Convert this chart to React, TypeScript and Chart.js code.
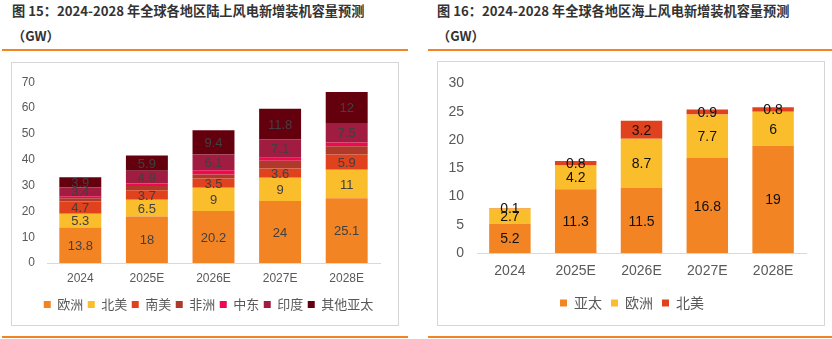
import React, { useEffect, useRef } from "react";
import { Chart, registerables } from "chart.js";
Chart.register(...registerables);

// ---------- data ----------
const years = ["2024", "2025E", "2026E", "2027E", "2028E"];

const onshoreEurope = [13.8, 18, 20.2, 24, 25.1];
const onshoreNorthAmerica = [5.3, 6.5, 9, 9, 11];
const onshoreSouthAmerica = [4.7, 3.7, 3.5, 3.6, 5.9];
const onshoreAfrica = [1.3, 1.6, 1.6, 3.0, 3.2];
const onshoreMiddleEast = [0.8, 1.0, 1.6, 1.2, 1.5];
const onshoreIndia = [3.4, 4.9, 6.1, 7.1, 7.5];
const onshoreOtherAPAC = [3.9, 5.9, 9.4, 11.8, 12];

const offshoreAPAC = [5.2, 11.3, 11.5, 16.8, 19];
const offshoreEurope = [2.7, 4.2, 8.7, 7.7, 6];
const offshoreNorthAmerica = [0.1, 0.8, 3.2, 0.9, 0.8];

const onshoreTicks = { min: 0, max: 70, step: 10 };
const offshoreTicks = { min: 0, max: 30, step: 5 };

const title15 = "图 15：2024-2028 年全球各地区陆上风电新增装机容量预测";
const title16 = "图 16：2024-2028 年全球各地区海上风电新增装机容量预测";
const unitLine = "（GW）";

// ---------- styles ----------
const C_ORANGE = "#F28424";
const C_YELLOW = "#FABD2C";
const C_RED = "#E0421E";
const C_BRICK = "#B03A2A";
const C_PINK = "#EC0A50";
const C_CRIMSON = "#A01C40";
const C_MAROON = "#64000E";

const NUM_FONT = "'Liberation Sans', Arial, sans-serif";
const CJK_FONT = "'Noto Sans CJK SC', 'Liberation Sans', sans-serif";

const barLabels = {
  id: "barLabels",
  afterDatasetsDraw(chart: any, _args: any, opts: any) {
    const { ctx } = chart;
    chart.data.datasets.forEach((ds: any, i: number) => {
      if (ds.hideLabels) return;
      const meta = chart.getDatasetMeta(i);
      if (meta.hidden) return;
      meta.data.forEach((el: any, j: number) => {
        const v = ds.data[j];
        const p = el.getProps(["x", "y", "base"], true);
        ctx.save();
        ctx.fillStyle = opts.color;
        ctx.font = `${opts.size}px ${NUM_FONT}`;
        ctx.textAlign = "center";
        ctx.textBaseline = "middle";
        ctx.fillText(String(v), p.x, (p.y + p.base) / 2 + 1);
        ctx.restore();
      });
    });
  },
};

// shifts the legend box horizontally after layout
const legendShift = {
  id: "legendShift",
  afterLayout(chart: any, _args: any, opts: any) {
    const lg = chart.legend;
    if (!lg || !opts || !opts.dx) return;
    lg.left += opts.dx;
    lg.right += opts.dx;
  },
};

function makeConfig(
  datasets: any[],
  ticks: { min: number; max: number; step: number },
  cfg: {
    yWidth: number;
    yPad: number;
    tickSize: number;
    xPad: number;
    xSize: number;
    xShrink: number;
    legendSize: number;
    legendPad: number;
    legendDx: number;
    labelColor: string;
    labelSize: number;
    top: number;
    right: number;
    bottom: number;
  }
): any {
  return {
    type: "bar",
    data: { labels: years, datasets },
    plugins: [barLabels, legendShift],
    options: {
      animation: false,
      responsive: false,
      devicePixelRatio: 1,
      layout: { padding: { top: cfg.top, right: cfg.right, bottom: cfg.bottom, left: 0 } },
      datasets: { bar: { categoryPercentage: 1, barPercentage: 0.63 } },
      scales: {
        x: {
          stacked: true,
          grid: { display: false, drawTicks: false },
          border: { display: true, color: "#d9d9d9", width: 1 },
          ticks: { color: "#595959", font: { family: NUM_FONT, size: cfg.xSize }, padding: cfg.xPad },
          afterFit: (s: any) => {
            s.height = s.height - cfg.xShrink;
          },
        },
        y: {
          stacked: true,
          min: ticks.min,
          max: ticks.max,
          grid: { display: false, drawTicks: false },
          border: { display: false },
          ticks: {
            stepSize: ticks.step,
            color: "#595959",
            font: { family: NUM_FONT, size: cfg.tickSize },
            padding: cfg.yPad,
          },
          afterFit: (s: any) => {
            s.width = cfg.yWidth;
          },
        },
      },
      plugins: {
        tooltip: { enabled: false },
        legend: {
          position: "bottom",
          labels: {
            boxWidth: 7,
            boxHeight: 7,
            color: "#595959",
            font: { family: CJK_FONT, size: cfg.legendSize },
            padding: cfg.legendPad,
          },
        },
        legendShift: { dx: cfg.legendDx },
        barLabels: { color: cfg.labelColor, size: cfg.labelSize },
      },
    },
  };
}

function ChartCanvas({ config, style, width, height }: any) {
  const ref = useRef<HTMLCanvasElement>(null);
  useEffect(() => {
    const chart = new Chart(ref.current as HTMLCanvasElement, config);
    return () => chart.destroy();
  }, []);
  return <canvas ref={ref} width={width} height={height} style={{ position: "absolute", ...style }} />;
}

const titleStyle: React.CSSProperties = {
  position: "absolute",
  fontFamily: CJK_FONT,
  fontWeight: 700,
  fontSize: 13.2,
  color: "#333333",
  whiteSpace: "nowrap",
  lineHeight: "16px",
};

export default function App() {
  useEffect(() => {
    document.body.style.margin = "0";
  }, []);

  const leftSets = [
    { label: "欧洲", data: onshoreEurope, backgroundColor: C_ORANGE },
    { label: "北美", data: onshoreNorthAmerica, backgroundColor: C_YELLOW },
    { label: "南美", data: onshoreSouthAmerica, backgroundColor: C_RED },
    { label: "非洲", data: onshoreAfrica, backgroundColor: C_BRICK, hideLabels: true },
    { label: "中东", data: onshoreMiddleEast, backgroundColor: C_PINK, hideLabels: true },
    { label: "印度", data: onshoreIndia, backgroundColor: C_CRIMSON },
    { label: "其他亚太", data: onshoreOtherAPAC, backgroundColor: C_MAROON },
  ];
  const rightSets = [
    { label: "亚太", data: offshoreAPAC, backgroundColor: C_ORANGE },
    { label: "欧洲", data: offshoreEurope, backgroundColor: C_YELLOW },
    { label: "北美", data: offshoreNorthAmerica, backgroundColor: C_RED },
  ];

  const leftCfg = makeConfig(leftSets, onshoreTicks, {
    yWidth: 35,
    yPad: 12,
    tickSize: 12,
    xPad: 8,
    xSize: 12,
    xShrink: 0,
    legendSize: 13,
    legendPad: 4.5,
    legendDx: 12.5,
    labelColor: "#404040",
    labelSize: 13,
    top: 18,
    right: 18,
    bottom: 4,
  });
  const rightCfg = makeConfig(rightSets, offshoreTicks, {
    yWidth: 39,
    yPad: 13,
    tickSize: 14,
    xPad: 10,
    xSize: 14,
    xShrink: 3,
    legendSize: 14,
    legendPad: 9,
    legendDx: 10,
    labelColor: "#111111",
    labelSize: 14,
    top: 18,
    right: 18,
    bottom: 5,
  });

  return (
    <div style={{ position: "absolute", left: 0, top: 0, width: 832, height: 339, background: "#fff", overflow: "hidden" }}>
      <div style={{ ...titleStyle, left: 12, top: 3 }}>{title15}</div>
      <div style={{ ...titleStyle, left: 12, top: 28 }}>{unitLine}</div>
      <div style={{ ...titleStyle, left: 437, top: 3 }}>{title16}</div>
      <div style={{ ...titleStyle, left: 437, top: 28 }}>{unitLine}</div>

      <div style={{ position: "absolute", left: 2, top: 49, width: 406, height: 2, background: C_ORANGE }} />
      <div style={{ position: "absolute", left: 428, top: 49, width: 404, height: 2, background: C_ORANGE }} />
      <div style={{ position: "absolute", left: 2, top: 336, width: 406, height: 2, background: C_ORANGE }} />
      <div style={{ position: "absolute", left: 428, top: 336, width: 404, height: 2, background: C_ORANGE }} />

      <div style={{ position: "absolute", left: 11, top: 62, width: 386, height: 262, border: "1px solid #d6d6d6" }} />
      <div style={{ position: "absolute", left: 437, top: 61, width: 386, height: 263, border: "1px solid #d6d6d6" }} />

      <ChartCanvas config={leftCfg} width={386} height={262} style={{ left: 12, top: 63 }} />
      <ChartCanvas config={rightCfg} width={386} height={263} style={{ left: 438, top: 62 }} />
    </div>
  );
}
